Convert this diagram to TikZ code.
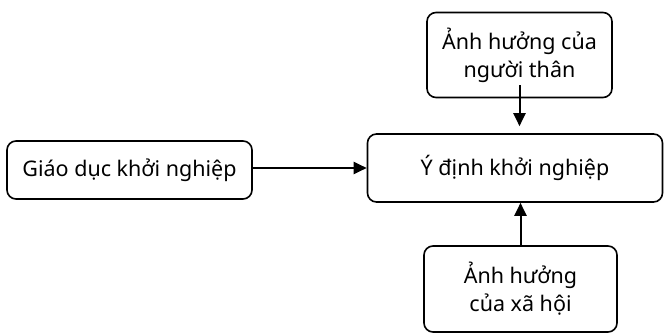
\documentclass[tikz,border=0pt]{standalone}
\usepackage{fontspec}
\setmainfont{Noto Sans}
\usetikzlibrary{arrows.meta}
\tikzset{
  box/.style={draw, line width=1.6pt, rounded corners=9pt, align=center, inner sep=0pt,
    font=\fontsize{21.5pt}{28pt}\selectfont},
  arr/.style={line width=2pt, -{Triangle[length=13pt,width=12pt]}}
}
\begin{document}
\begin{tikzpicture}[x=1pt,y=-1pt]
\useasboundingbox (0,0) rectangle (665,334);
\node[box, minimum width=245pt, minimum height=58pt] (edu) at (129.5,170) {Giáo dục khởi nghiệp};
\node[box, minimum width=295pt, minimum height=68pt] (int) at (515,168) {Ý định khởi nghiệp};
\node[box, minimum width=185pt, minimum height=85pt] (fam) at (519.5,55) {Ảnh hưởng của\\người thân};
\node[box, minimum width=193pt, minimum height=86pt] (soc) at (520.5,289) {Ảnh hưởng\\của xã hội};
\draw[arr] (edu.east |- 0,168) -- (int.west |- 0,168);
\draw[arr] ([yshift=13pt]fam.south) -- ([yshift=7pt]fam.south |- int.north);
\draw[arr] (soc.north) -- (soc.north |- int.south);
\end{tikzpicture}
\end{document}
